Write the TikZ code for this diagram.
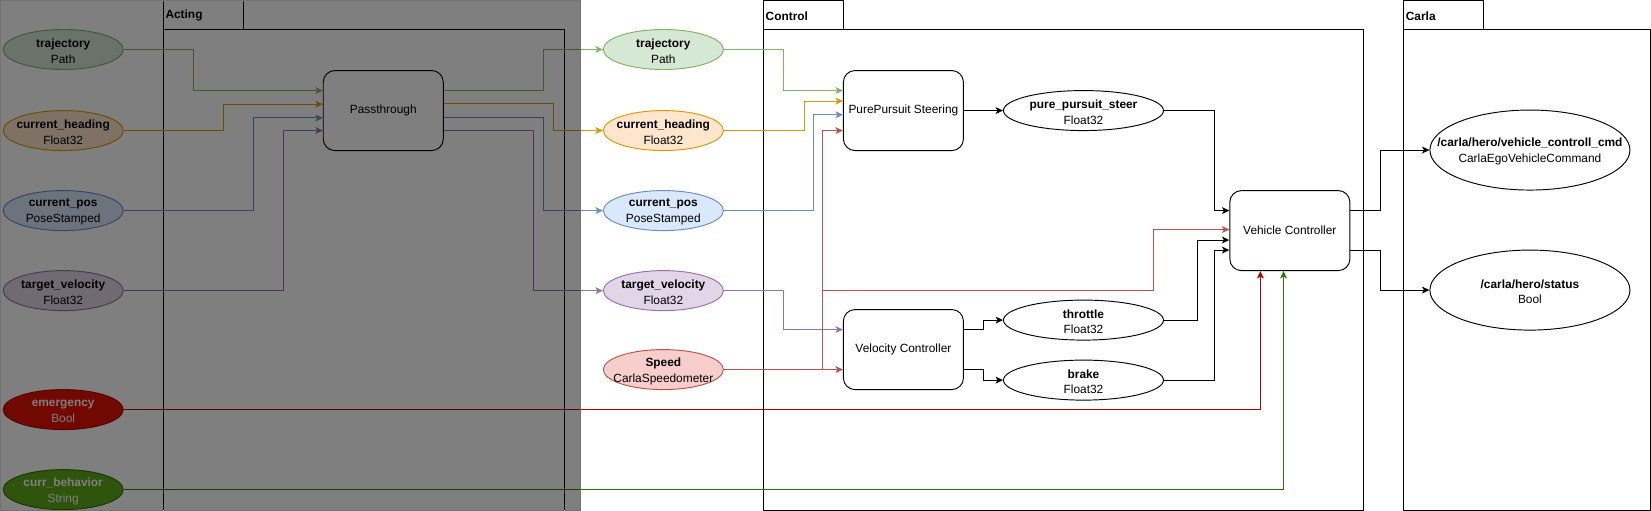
\documentclass[tikz,border=0pt]{standalone}
\usepackage{fontspec}
\setmainfont{Liberation Sans}
\usetikzlibrary{shapes.geometric,arrows.meta}
\definecolor{trF}{HTML}{D5E8D4}\definecolor{trS}{HTML}{82B366}
\definecolor{hdF}{HTML}{FFE6CC}\definecolor{hdS}{HTML}{D79B00}
\definecolor{psF}{HTML}{DAE8FC}\definecolor{psS}{HTML}{6C8EBF}
\definecolor{vlF}{HTML}{E1D5E7}\definecolor{vlS}{HTML}{9673A6}
\definecolor{spF}{HTML}{F8CECC}\definecolor{spS}{HTML}{B85450}
\definecolor{emF}{HTML}{E51400}\definecolor{emS}{HTML}{B20000}
\definecolor{bhF}{HTML}{60A917}\definecolor{bhS}{HTML}{2D7600}
\begin{document}
\begin{tikzpicture}[x=1pt,y=-1pt, font=\fontsize{11.3}{15}\selectfont,
  topic/.style={ellipse, draw, line width=0.9pt, minimum width=114pt, minimum height=38pt, inner sep=0pt},
  wtopic/.style={topic, minimum width=152pt},
  btopic/.style={topic, minimum width=190pt, minimum height=76pt},
  tlab/.style={align=center, inner sep=0pt, yshift=-1.5pt, font=\fontsize{11.3}{15}\selectfont},
  proc/.style={rectangle, rounded corners=11pt, draw, line width=0.9pt, minimum width=114pt, minimum height=76pt, inner sep=0pt, fill=white},
  conn/.style={line width=0.9pt, -{Stealth[length=7pt,width=6.5pt,inset=1.8pt]}},
  pkg/.style={draw, line width=0.9pt},
  pkglab/.style={anchor=west, inner sep=0pt, font=\fontsize{11.3}{13}\selectfont\bfseries},
]
\useasboundingbox (0,0) rectangle (1568,485.3);
\fill[white] (0,0) rectangle (1568,485.3);

% packages
\draw[pkg] (155,0.5) rectangle (231,28);
\draw[pkg] (155,28) rectangle (536,484.5);
\node[pkglab] (actingL) at (157,15) {Acting};
\draw[pkg] (725,0.5) rectangle (801,28);
\draw[pkg] (725,28) rectangle (1295,484.5);
\node[pkglab] (controlL) at (727,15) {Control};
\draw[pkg] (1333,0.5) rectangle (1409,28);
\draw[pkg] (1333,28) rectangle (1567.5,484.5);
\node[pkglab] (carlaL) at (1335,15) {Carla};

% left topics
\node[topic, fill=trF, draw=trS] (traj1) at (60,47) {};
\node[tlab] (traj1t) at (traj1) {\textbf{trajectory}\\Path};
\node[topic, fill=hdF, draw=hdS] (head1) at (60,124) {};
\node[tlab] (head1t) at (head1) {\textbf{current\_heading}\\Float32};
\node[topic, fill=psF, draw=psS] (pos1) at (60,200) {};
\node[tlab] (pos1t) at (pos1) {\textbf{current\_pos}\\PoseStamped};
\node[topic, fill=vlF, draw=vlS] (vel1) at (60,276) {};
\node[tlab] (vel1t) at (vel1) {\textbf{target\_velocity}\\Float32};
\node[topic, fill=emF, draw=emS] (emerg) at (60,389) {};
\node[tlab, text=white] (emergt) at (emerg) {\textbf{emergency}\\Bool};
\node[topic, fill=bhF, draw=bhS] (behav) at (60,465) {};
\node[tlab, text=white] (behavt) at (behav) {\textbf{curr\_behavior}\\String};

\node[proc] (pass) at (364,105) {Passthrough};

% middle topics
\node[topic, fill=trF, draw=trS] (traj2) at (630,47) {};
\node[tlab] (traj2t) at (traj2) {\textbf{trajectory}\\Path};
\node[topic, fill=hdF, draw=hdS] (head2) at (630,124) {};
\node[tlab] (head2t) at (head2) {\textbf{current\_heading}\\Float32};
\node[topic, fill=psF, draw=psS] (pos2) at (630,200) {};
\node[tlab] (pos2t) at (pos2) {\textbf{current\_pos}\\PoseStamped};
\node[topic, fill=vlF, draw=vlS] (vel2) at (630,276) {};
\node[tlab] (vel2t) at (vel2) {\textbf{target\_velocity}\\Float32};
\node[topic, fill=spF, draw=spS] (speed) at (630,351) {};
\node[tlab] (speedt) at (speed) {\textbf{Speed}\\CarlaSpeedometer};

\node[proc] (pps) at (858,105) {PurePursuit Steering};
\node[proc] (velc) at (858,332) {Velocity Controller};
\node[proc] (vehc) at (1225,219) {Vehicle Controller};

\node[wtopic, fill=white] (steer) at (1029,105) {};
\node[tlab] (steert) at (steer) {\textbf{pure\_pursuit\_steer}\\Float32};
\node[wtopic, fill=white] (thr) at (1029,304) {};
\node[tlab] (thrt) at (thr) {\textbf{throttle}\\Float32};
\node[wtopic, fill=white] (brk) at (1029,361) {};
\node[tlab] (brkt) at (brk) {\textbf{brake}\\Float32};

\node[btopic, fill=white] (cmd) at (1453,142.5) {};
\node[tlab] (cmdt) at (cmd) {\textbf{/carla/hero/vehicle\_controll\_cmd}\\CarlaEgoVehicleCommand};
\node[btopic, fill=white] (status) at (1453,275.5) {};
\node[tlab] (statust) at (status) {\textbf{/carla/hero/status}\\Bool};

% edges into passthrough
\draw[conn, trS] (traj1.east) -| (184,86) -- (pass.west |- 0,86);
\draw[conn, hdS] (head1.east) -| (212,99) -- (pass.west |- 0,99);
\draw[conn, psS] (pos1.east) -| (241,112) -- (pass.west |- 0,112);
\draw[conn, vlS] (vel1.east) -| (269,124) -- (pass.west |- 0,124);
% out of passthrough
\draw[conn, trS] (pass.east |- 0,86) -| (516,47) -- (traj2.west);
\draw[conn, hdS] (pass.east |- 0,98) -| (526,124) -- (head2.west);
\draw[conn, psS] (pass.east |- 0,112) -| (516,200) -- (pos2.west);
\draw[conn, vlS] (pass.east |- 0,124) -| (507,276) -- (vel2.west);
% into PurePursuit
\draw[conn, trS] (traj2.east) -| (744,86) -- (pps.west |- 0,86);
\draw[conn, hdS] (head2.east) -| (764,96) -- (pps.west |- 0,96);
\draw[conn, psS] (pos2.east) -| (773,109) -- (pps.west |- 0,109);
\draw[conn, spS] (speed.east) -| (781,124) -- (pps.west |- 0,124);
% speed
\coordinate (spj) at (781,276);
\draw[conn, spS] (speed.east) -- (velc.west |- speed.east);
\draw[conn, spS] (spj) -| (1095,218) -- (vehc.west |- 0,218);
% velocity
\draw[conn, vlS] (vel2.east) -| (744,313) -- (velc.west |- 0,313);
% controller outputs
\draw[conn] (pps.east) -- (steer.west);
\draw[conn] (velc.east |- 0,313) -| (934,304) -- (thr.west);
\draw[conn] (velc.east |- 0,351) -| (934,361) -- (brk.west);
\draw[conn] (steer.east) -| (1153,200) -- (vehc.west |- 0,200);
\draw[conn] (thr.east) -| (1137,228) -- (vehc.west |- 0,228);
\draw[conn] (brk.east) -| (1153,237.5) -- (vehc.west |- 0,237.5);
\draw[conn, emS] (emerg.east) -| (vehc.south -| 1197,0);
\draw[conn, bhS] (behav.east) -| (vehc.south -| 1219,0);
\draw[conn] (vehc.east |- 0,200) -| (1311,142.5) -- (cmd.west);
\draw[conn] (vehc.east |- 0,237.5) -| (1311,275.5) -- (status.west);

% overlay
\fill[black, fill opacity=0.5] (0,0) rectangle (551,485.3);
\draw[black!55, line width=0.8pt] (0.4,0.4) rectangle (551,484.9);
\end{tikzpicture}
\end{document}
